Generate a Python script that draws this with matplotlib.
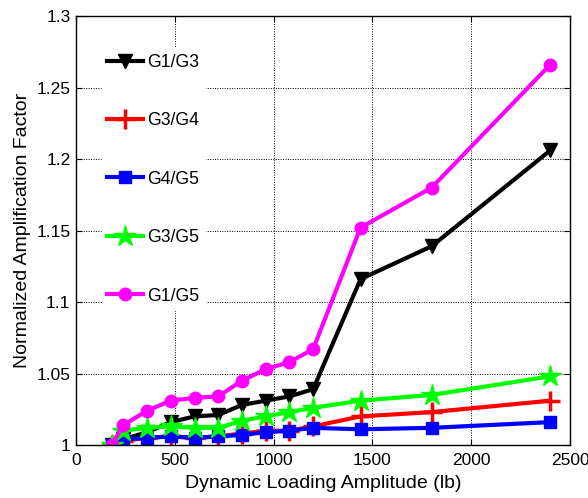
import matplotlib
matplotlib.use("Agg")
import matplotlib.pyplot as plt

plt.rcParams['font.family'] = ['Liberation Sans', 'DejaVu Sans']

load_lb = [180, 240, 360, 480, 600, 720, 840, 960, 1080, 1200, 1440, 1800, 2400]
g1_g3 = [1.000, 1.004, 1.009, 1.016, 1.020, 1.021, 1.028, 1.031, 1.034, 1.039, 1.116, 1.139, 1.206]
g3_g4 = [1.000, 1.003, 1.005, 1.006, 1.005, 1.006, 1.008, 1.010, 1.010, 1.013, 1.020, 1.023, 1.031]
g4_g5 = [1.000, 1.004, 1.005, 1.006, 1.005, 1.006, 1.007, 1.009, 1.010, 1.012, 1.011, 1.012, 1.016]
g3_g5 = [1.000, 1.010, 1.012, 1.013, 1.012, 1.012, 1.017, 1.020, 1.023, 1.026, 1.031, 1.035, 1.048]
g1_g5 = [1.000, 1.014, 1.024, 1.031, 1.033, 1.034, 1.045, 1.053, 1.058, 1.067, 1.152, 1.180, 1.266]

series = [
    ("G1/G3", g1_g3, "black", "v"),
    ("G3/G4", g3_g4, "red", "+"),
    ("G4/G5", g4_g5, "blue", "s"),
    ("G3/G5", g3_g5, "lime", "*"),
    ("G1/G5", g1_g5, "magenta", "o"),
]

fig = plt.figure(figsize=(5.88, 4.98), dpi=100)
ax = fig.add_axes([76/588, 53/498, 494/588, 429/498])

for name, vals, col, mk in series:
    ms = {"v": 10.5, "+": 14, "s": 8, "*": 16, "o": 9}[mk]
    mew = 2.5 if mk == "+" else 1
    ax.plot(load_lb, vals, color=col, marker=mk, markersize=ms,
            markeredgewidth=mew, markerfacecolor=col, markeredgecolor=col,
            linewidth=3, label=name)

ax.set_xlim(0, 2500)
ax.set_ylim(1.0, 1.3)
ax.set_xticks([0, 500, 1000, 1500, 2000, 2500])
ax.set_yticks([1, 1.05, 1.1, 1.15, 1.2, 1.25, 1.3])
ax.set_yticklabels(["1", "1.05", "1.1", "1.15", "1.2", "1.25", "1.3"])
ax.grid(True, color="black", linestyle=(0, (1, 1.5)), linewidth=0.7)
ax.tick_params(direction="in", top=True, right=True, labelsize=12.5, length=4)
ax.tick_params(axis="x", pad=6)
ax.tick_params(axis="y", pad=4)
for s in ax.spines.values():
    s.set_linewidth(1.0)

ax.set_xlabel("Dynamic Loading Amplitude (lb)", fontsize=14, labelpad=5)
ax.set_ylabel("Normalized Amplification Factor", fontsize=14, labelpad=4)

leg = ax.legend(loc="upper left", bbox_to_anchor=(0.035, 0.945), fontsize=12.7,
                frameon=True, framealpha=1, facecolor="white", edgecolor="white",
                labelspacing=2.35, handlelength=2.0, handletextpad=0.25,
                borderpad=0.3, fancybox=False)

fig.savefig("out.png", dpi=100)
